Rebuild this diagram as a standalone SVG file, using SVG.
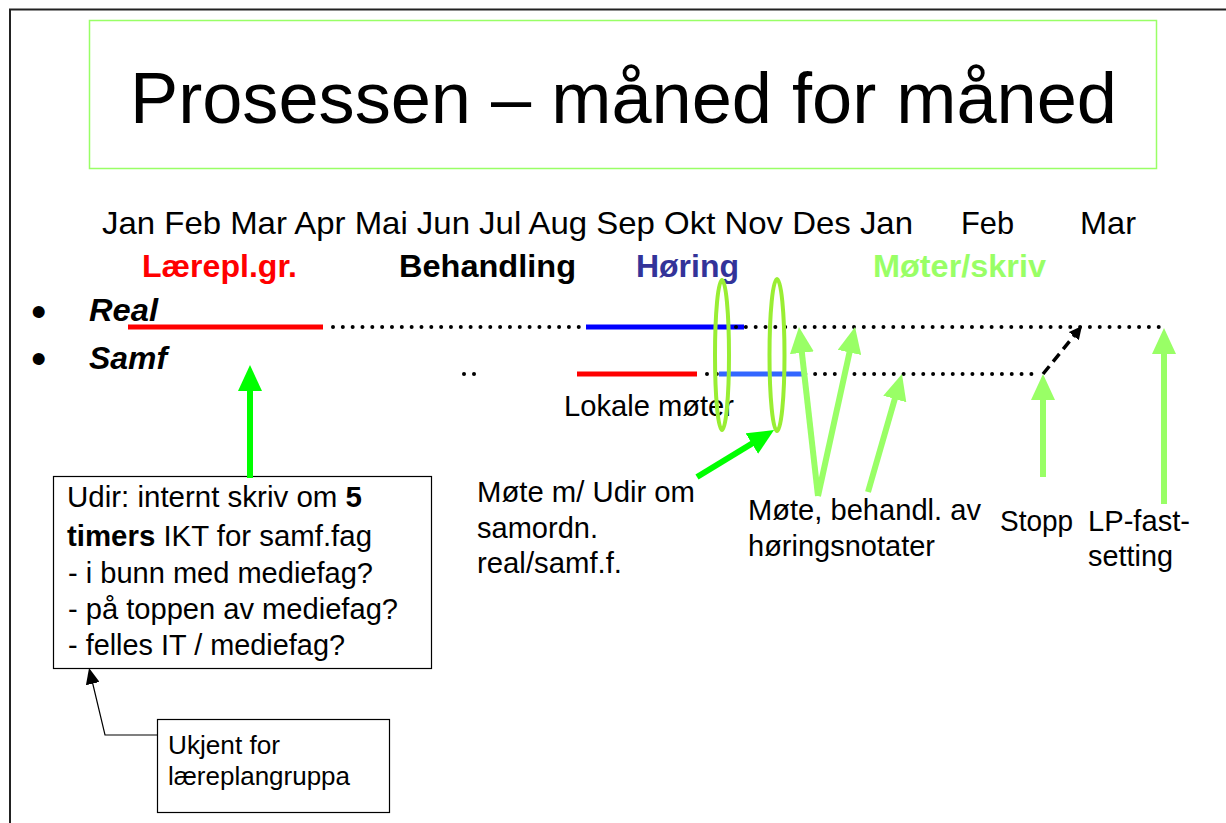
<svg xmlns="http://www.w3.org/2000/svg" width="1226" height="823" viewBox="0 0 1226 823">
<style>
text{font-family:"Liberation Sans",Arial,sans-serif;fill:#000}
.b{font-weight:bold}
.bi{font-weight:bold;font-style:italic;font-size:32px}
.m{font-size:32px}
.ph{font-size:32px;font-weight:bold}
.n{font-size:29.5px}
.u{font-size:26.5px}
.s{font-size:29px}
.box{fill:#fff;stroke:#000;stroke-width:1.2}
.dot{fill:none;stroke:#000;stroke-width:4;stroke-linecap:round;stroke-dasharray:0 9.83}
.lg{fill:none;stroke:#99FF66;stroke-width:6}
.bg{fill:none;stroke:#00FF00;stroke-width:6}
.ell{fill:none;stroke:#99EE33;stroke-width:4}
</style>
<defs>
<marker id="hlg" markerUnits="userSpaceOnUse" markerWidth="26" markerHeight="24" refX="16" refY="12" orient="auto"><path d="M0,0 L26,12 L0,24 z" fill="#99FF66"/></marker>
<marker id="hbg" markerUnits="userSpaceOnUse" markerWidth="26" markerHeight="24" refX="16" refY="12" orient="auto"><path d="M0,0 L26,12 L0,24 z" fill="#00FF00"/></marker>
<marker id="hbk" markerUnits="userSpaceOnUse" markerWidth="13" markerHeight="13" refX="8" refY="6.5" orient="auto"><path d="M0,0 L13,6.5 L0,13 z" fill="#000"/></marker>
<marker id="hth" markerUnits="userSpaceOnUse" markerWidth="16" markerHeight="14" refX="14" refY="7" orient="auto"><path d="M0,0 L16,7 L0,14 z" fill="#000"/></marker>
</defs>
<rect x="0" y="0" width="1226" height="823" fill="#fff"/>
<rect x="10" y="9.5" width="1240" height="840" fill="none" stroke="#222" stroke-width="2"/>

<g id="title">
<rect x="89.5" y="20.5" width="1067" height="148" fill="none" stroke="#99FF66" stroke-width="1.5"/>
<text x="130" y="123" font-size="72" textLength="987" lengthAdjust="spacingAndGlyphs">Prosessen – måned for måned</text>
</g>

<g id="months">
<text class="m" x="102" y="234" textLength="811" lengthAdjust="spacingAndGlyphs">Jan Feb Mar Apr Mai Jun Jul Aug Sep Okt Nov Des Jan</text>
<text class="m" x="961" y="234" textLength="53" lengthAdjust="spacingAndGlyphs">Feb</text>
<text class="m" x="1080" y="234" textLength="56" lengthAdjust="spacingAndGlyphs">Mar</text>
</g>

<g id="phases">
<text class="ph" x="142" y="277" style="fill:#FF0000" textLength="155" lengthAdjust="spacingAndGlyphs">Lærepl.gr.</text>
<text class="ph" x="399" y="277" textLength="177" lengthAdjust="spacingAndGlyphs">Behandling</text>
<text class="ph" x="636" y="277" style="fill:#333399" textLength="103" lengthAdjust="spacingAndGlyphs">Høring</text>
<text class="ph" x="873" y="277" style="fill:#99FF66" textLength="173" lengthAdjust="spacingAndGlyphs">Møter/skriv</text>
</g>

<g id="row-real">
<text x="31" y="327" font-size="44">•</text>
<text class="bi" x="89" y="321" textLength="69" lengthAdjust="spacingAndGlyphs">Real</text>
<line class="dot" x1="333" y1="327" x2="1162" y2="327"/>
<line x1="128" y1="327" x2="323" y2="327" stroke="#FF0000" stroke-width="5"/>
<line x1="586" y1="327" x2="744" y2="327" stroke="#0000FF" stroke-width="5"/>
<circle cx="736" cy="327" r="2" fill="#000"/>
</g>

<g id="row-samf">
<text x="31" y="374" font-size="44">•</text>
<text class="bi" x="89" y="369" textLength="78" lengthAdjust="spacingAndGlyphs">Samf</text>
<circle cx="464" cy="374" r="2" fill="#000"/>
<circle cx="474" cy="374" r="2" fill="#000"/>
<line class="dot" x1="707" y1="374" x2="1040" y2="374"/>
<line x1="577" y1="374" x2="697" y2="374" stroke="#FF0000" stroke-width="5"/>
<line x1="719" y1="374" x2="803" y2="374" stroke="#3366FF" stroke-width="5"/>
<text class="s" x="564" y="416" textLength="170" lengthAdjust="spacingAndGlyphs">Lokale møter</text>
</g>

<g id="ellipses">
<ellipse class="ell" cx="722" cy="355" rx="7" ry="75"/>
<ellipse class="ell" cx="777" cy="355" rx="7.5" ry="76"/>
</g>

<g id="udir-note">
<rect class="box" x="53.5" y="476.5" width="378" height="192"/>
<text class="n" x="67" y="507" textLength="295" lengthAdjust="spacingAndGlyphs">Udir: internt skriv om <tspan class="b">5</tspan></text>
<text class="n" x="67" y="546" textLength="305" lengthAdjust="spacingAndGlyphs"><tspan class="b">timers</tspan> IKT for samf.fag</text>
<text class="n" x="68" y="583" textLength="305" lengthAdjust="spacingAndGlyphs">- i bunn med mediefag?</text>
<text class="n" x="68" y="619" textLength="330" lengthAdjust="spacingAndGlyphs">- på toppen av mediefag?</text>
<text class="n" x="68" y="655" textLength="277" lengthAdjust="spacingAndGlyphs">- felles IT / mediefag?</text>
</g>

<g id="ukjent-note">
<rect class="box" x="157.5" y="719.5" width="232" height="93"/>
<text class="u" x="168" y="754" textLength="112" lengthAdjust="spacingAndGlyphs">Ukjent for</text>
<text class="u" x="168" y="785" textLength="182" lengthAdjust="spacingAndGlyphs">læreplangruppa</text>
</g>

<g id="mote-udir">
<text class="n" x="477" y="502" textLength="218" lengthAdjust="spacingAndGlyphs">Møte m/ Udir om</text>
<text class="n" x="477" y="538" textLength="121" lengthAdjust="spacingAndGlyphs">samordn.</text>
<text class="n" x="477" y="573" textLength="145" lengthAdjust="spacingAndGlyphs">real/samf.f.</text>
</g>

<g id="mote-behandl">
<text class="n" x="748" y="520" textLength="233" lengthAdjust="spacingAndGlyphs">Møte, behandl. av</text>
<text class="n" x="748" y="556" textLength="187" lengthAdjust="spacingAndGlyphs">høringsnotater</text>
</g>

<g id="stopp">
<text class="n" x="1000" y="531" textLength="73" lengthAdjust="spacingAndGlyphs">Stopp</text>
</g>

<g id="lp-fastsetting">
<text class="n" x="1088" y="531" textLength="102" lengthAdjust="spacingAndGlyphs">LP-fast-</text>
<text class="n" x="1088" y="566" textLength="85" lengthAdjust="spacingAndGlyphs">setting</text>
</g>

<g id="connectors">
<line class="bg" x1="250" y1="478" x2="250" y2="375" marker-end="url(#hbg)"/>
<line class="bg" x1="697" y1="477" x2="765.5" y2="435.2" marker-end="url(#hbg)"/>
<line class="lg" x1="818" y1="496" x2="800.1" y2="336.9" marker-end="url(#hlg)"/>
<line class="lg" x1="818" y1="496" x2="852.9" y2="336.8" marker-end="url(#hlg)"/>
<line class="lg" x1="868" y1="492" x2="899.2" y2="383.6" marker-end="url(#hlg)"/>
<line class="lg" x1="1043" y1="477" x2="1043" y2="384" marker-end="url(#hlg)"/>
<line class="lg" x1="1164" y1="504" x2="1164" y2="338" marker-end="url(#hlg)"/>
<line x1="1043" y1="374" x2="1078.8" y2="329.9" stroke="#000" stroke-width="3.5" stroke-dasharray="10 6" marker-end="url(#hbk)"/>
<polyline points="157,735 105,735 89.5,670" fill="none" stroke="#000" stroke-width="1.2" marker-end="url(#hth)"/>
</g>
</svg>
